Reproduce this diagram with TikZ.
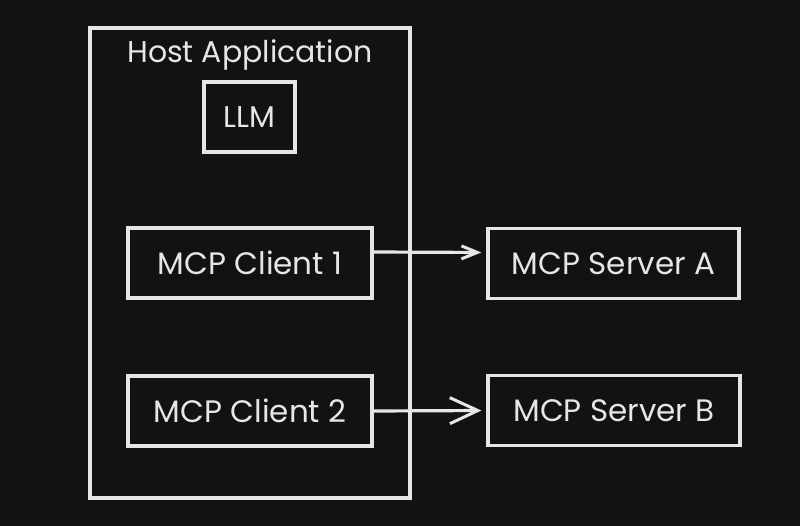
\documentclass[tikz,border=0pt]{standalone}
\usepackage{fontspec}
\setmainfont{Poppins}
\usetikzlibrary{arrows.meta}
\definecolor{bg}{HTML}{121212}
\definecolor{ink}{HTML}{E6E6E6}
\begin{document}
\begin{tikzpicture}[x=1pt,y=-1pt,
  box/.style={draw=ink,line width=3.2pt,minimum height=70pt,text=ink,font=\fontsize{31}{34}\selectfont,inner sep=0pt},
  conn/.style={draw=ink,line width=3.2pt,shorten >=5pt}]
\fill[bg] (0,0) rectangle (800,526);
\useasboundingbox (0,0) rectangle (800,526);
\node[box,minimum width=320pt,minimum height=470pt] (host) at (250,263) {};
\node[text=ink,font=\fontsize{30}{33}\selectfont] (title) at (250,55) {Host Application};
\node[box,minimum width=91pt,minimum height=70pt,font=\fontsize{30}{33}\selectfont] (llm) at (249.5,117) {LLM};
\node[box,minimum width=244pt] (c1) at (250,263) {MCP Client 1};
\node[box,minimum width=244pt] (c2) at (250,411) {MCP Client 2};
\node[box,minimum width=251pt] (sa) at (613.5,263.5) {MCP Server A};
\node[box,minimum width=252pt] (sb) at (614,410.5) {MCP Server B};
\draw[conn,-{Straight Barb[length=16pt,width=13pt,line width=3pt]}] ([yshift=11pt]c1.east) -- ([yshift=11pt]sa.west);
\draw[conn,-{Straight Barb[length=28pt,width=26pt,line width=3pt]}] (c2.east) -- (sb.west);
\end{tikzpicture}
\end{document}
